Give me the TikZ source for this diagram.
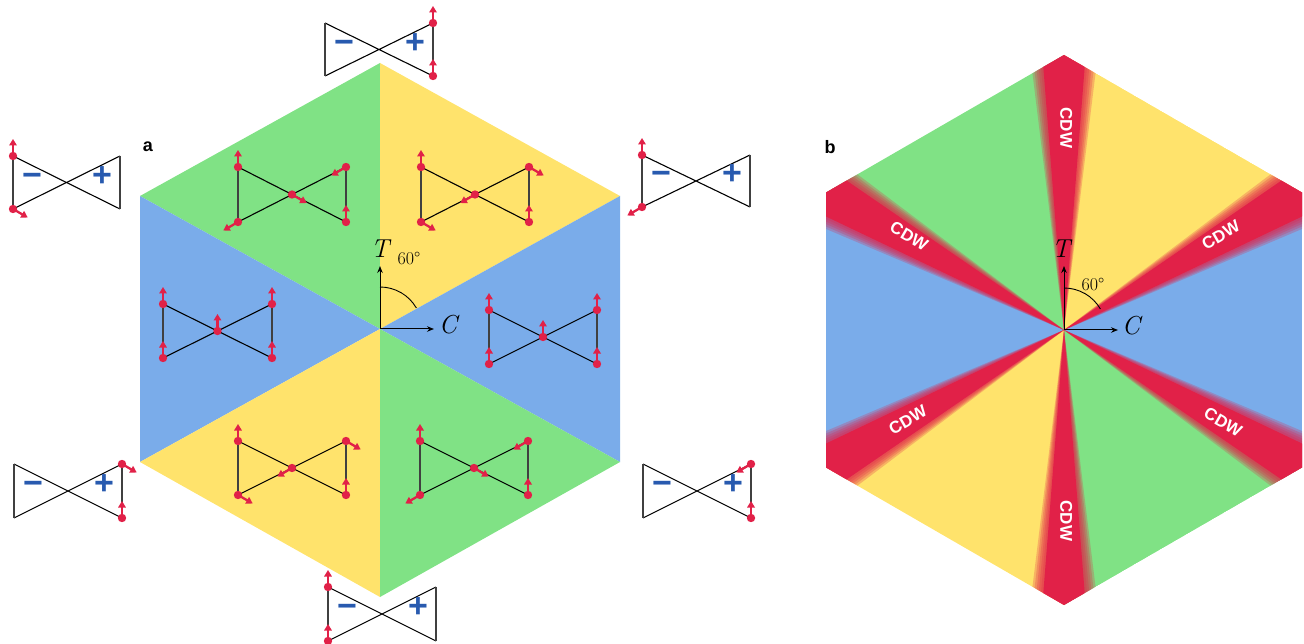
\documentclass[tikz,border=0pt]{standalone}
\usepackage{fontspec}
\newfontfamily\sansb{Liberation Sans}
\usetikzlibrary{arrows.meta,calc}

\definecolor{sgreen}{RGB}{128,226,133}
\definecolor{syellow}{RGB}{255,227,108}
\definecolor{sblue}{RGB}{122,172,234}
\definecolor{sred}{RGB}{225,33,72}
\definecolor{pmblue}{RGB}{40,90,175}

\tikzset{
 bowline/.style={line width=1.1pt, black},
 bowedge/.style={line width=1.4pt, black!75},
 spinarr/.style={sred, line width=2.3pt, -{Triangle[length=6.5pt,width=7.5pt]}},
 spindot/.style={fill=sred},
 pmsign/.style={text=pmblue, font=\sansb\bfseries\fontsize{34}{34}\selectfont, inner sep=0pt, text height=0.71em, text depth=0pt},
 cdwlab/.style={text=white, font=\sansb\bfseries\fontsize{17}{17}\selectfont, inner sep=0pt, text height=0.72em, text depth=0pt},
 axarr/.style={line width=1pt, -{Stealth[length=7pt,width=5.5pt]}},
 axlab/.style={font=\fontsize{26}{26}\selectfont\itshape, inner sep=0pt, text height=0.68em, text depth=0pt},
 anglab/.style={font=\fontsize{18}{18}\selectfont, inner sep=0pt},
 panlab/.style={font=\sansb\bfseries\fontsize{18}{18}\selectfont, inner sep=0pt},
 anglearc/.style={line width=0.9pt},
}

% name, left x, top y, width, height
\newcommand\bowfig[5]{%
 \coordinate (#1-tl) at (#2,#3);
 \coordinate (#1-bl) at (#2,{#3+#5});
 \coordinate (#1-tr) at ({#2+#4},#3);
 \coordinate (#1-br) at ({#2+#4},{#3+#5});
 \coordinate (#1-c) at ({#2+#4/2},{#3+#5/2});
 \draw[bowline] (#1-tl) -- (#1-br) (#1-bl) -- (#1-tr);
 \draw[bowedge] (#1-tl) -- (#1-bl) (#1-tr) -- (#1-br);
}
% outer icon with signs
\newcommand\signfig[5]{%
 \bowfig{#1}{#2}{#3}{#4}{#5}
 \node[pmsign] (#1-minus) at ($(#1-tl)!0.5!(#1-bl)+(19,0)$) {−};
 \node[pmsign] (#1-plus) at ($(#1-tr)!0.5!(#1-br)+(-18,0)$) {+};
}
% spin at coordinate, direction in usual math angle
\newcommand\spinat[2]{%
 \draw[spinarr] (#1) -- ([shift={({-(#2)}:17)}]#1);
 \fill[spindot] (#1) circle[radius=4.2pt];
}

\begin{document}
\begin{tikzpicture}[x=1pt,y=-1pt]
\useasboundingbox (0,0) rectangle (1304,644);

% ---------------- panel a ----------------
\coordinate (oa) at (380,329);
\coordinate (aT) at (380,63);
\coordinate (aUR) at (620,196);
\coordinate (aLR) at (620,462);
\coordinate (aB) at (380,597);
\coordinate (aLL) at (140,462);
\coordinate (aUL) at (140,196);
\fill[sgreen] (oa) -- (aT) -- (aUL) -- cycle;
\fill[syellow] (oa) -- (aT) -- (aUR) -- cycle;
\fill[sblue] (oa) -- (aUL) -- (aLL) -- cycle;
\fill[sblue] (oa) -- (aUR) -- (aLR) -- cycle;
\fill[syellow] (oa) -- (aLL) -- (aB) -- cycle;
\fill[sgreen] (oa) -- (aLR) -- (aB) -- cycle;

\node[panlab] (lab-a) at (148,147) {a};

% axes a
\coordinate (oa-t) at (380,266);
\coordinate (oa-c) at (434,329);
\draw[axarr] (oa) -- (oa-t);
\draw[axarr] (oa) -- (oa-c);
\node[axlab] (a-T) at (380,254) {T};
\node[axlab] (a-C) at (448,330) {C};
\draw[anglearc] (oa) ++(0,-42) arc[start angle=90,end angle=30,radius=42pt];
\node[anglab] (a-ang) at (409,258) {60\textdegree};

% inner bowties
\bowfig{gA}{238}{167}{108}{55}
\spinat{gA-tl}{90}\spinat{gA-bl}{210}\spinat{gA-c}{330}\spinat{gA-tr}{210}\spinat{gA-br}{90}
\bowfig{yA}{421}{167}{108}{55}
\spinat{yA-tl}{90}\spinat{yA-bl}{330}\spinat{yA-c}{210}\spinat{yA-tr}{330}\spinat{yA-br}{90}
\bowfig{bL}{163}{304}{109}{54}
\spinat{bL-tl}{90}\spinat{bL-bl}{90}\spinat{bL-c}{90}\spinat{bL-tr}{90}\spinat{bL-br}{90}
\bowfig{bR}{489}{310}{108}{54}
\spinat{bR-tl}{90}\spinat{bR-bl}{90}\spinat{bR-c}{90}\spinat{bR-tr}{90}\spinat{bR-br}{90}
\bowfig{yB}{238}{441}{108}{54}
\spinat{yB-tl}{90}\spinat{yB-bl}{330}\spinat{yB-c}{210}\spinat{yB-tr}{330}\spinat{yB-br}{90}
\bowfig{gB}{420}{441}{108}{54}
\spinat{gB-tl}{90}\spinat{gB-bl}{210}\spinat{gB-c}{330}\spinat{gB-tr}{210}\spinat{gB-br}{90}

% outer icons
\signfig{oT}{325}{23}{108}{53}
\spinat{oT-tr}{90}\spinat{oT-br}{90}
\signfig{oUL}{13}{156}{107}{53}
\spinat{oUL-tl}{90}\spinat{oUL-bl}{330}
\signfig{oUR}{642}{155}{108}{52}
\spinat{oUR-tl}{90}\spinat{oUR-bl}{210}
\signfig{oLL}{14}{464}{108}{54}
\spinat{oLL-tr}{330}\spinat{oLL-br}{90}
\signfig{oLR}{643}{464}{108}{54}
\spinat{oLR-tr}{210}\spinat{oLR-br}{90}
\signfig{oB}{328}{587}{108}{54}
\spinat{oB-tl}{90}\spinat{oB-bl}{90}

% ---------------- panel b ----------------
\coordinate (ob) at (1064,330);
\coordinate (bT) at (1064,55);
\coordinate (bUR) at (1302,192.5);
\coordinate (bLR) at (1302,467.5);
\coordinate (bB) at (1064,605);
\coordinate (bLL) at (826,467.5);
\coordinate (bUL) at (826,192.5);
\begin{scope}
\clip (bT) -- (bUR) -- (bLR) -- (bB) -- (bLL) -- (bUL) -- cycle;
\fill[sgreen] (ob) -- (bT) -- (bUL) -- cycle;
\fill[syellow] (ob) -- (bT) -- (bUR) -- cycle;
\fill[sblue] (ob) -- (bUL) -- (bLL) -- cycle;
\fill[sblue] (ob) -- (bUR) -- (bLR) -- cycle;
\fill[syellow] (ob) -- (bLL) -- (bB) -- cycle;
\fill[sgreen] (ob) -- (bLR) -- (bB) -- cycle;
\foreach \a in {90,30,150,210,270,330}{
  \foreach \w in {7,6.5,6,5.5,5}{
    \fill[sred,opacity=0.25] (ob) -- ([shift={({-(\a-\w)}:420)}]ob) -- ([shift={({-(\a+\w)}:420)}]ob) -- cycle;
  }
  \fill[sred] (ob) -- ([shift={({-(\a-4.5)}:420)}]ob) -- ([shift={({-(\a+4.5)}:420)}]ob) -- cycle;
}
\end{scope}

\node[cdwlab,rotate=-90] (cdw1) at (1064,128) {CDW};
\node[cdwlab,rotate=30] (cdw2) at (1222,237) {CDW};
\node[cdwlab,rotate=-30] (cdw3) at (908,238) {CDW};
\node[cdwlab,rotate=30] (cdw4) at (909,422) {CDW};
\node[cdwlab,rotate=-30] (cdw5) at (1222,424) {CDW};
\node[cdwlab,rotate=-90] (cdw6) at (1064,521) {CDW};

\node[panlab] (lab-b) at (830,147) {b};

% axes b
\coordinate (ob-t) at (1064,266);
\coordinate (ob-c) at (1118,330);
\draw[axarr] (ob) -- (ob-t);
\draw[axarr] (ob) -- (ob-c);
\node[axlab] (b-T) at (1061,254) {T};
\node[axlab] (b-C) at (1131,331) {C};
\draw[anglearc] (ob) ++(0,-42) arc[start angle=90,end angle=30,radius=42pt];
\node[anglab] (b-ang) at (1093,284) {60\textdegree};

\end{tikzpicture}
\end{document}
